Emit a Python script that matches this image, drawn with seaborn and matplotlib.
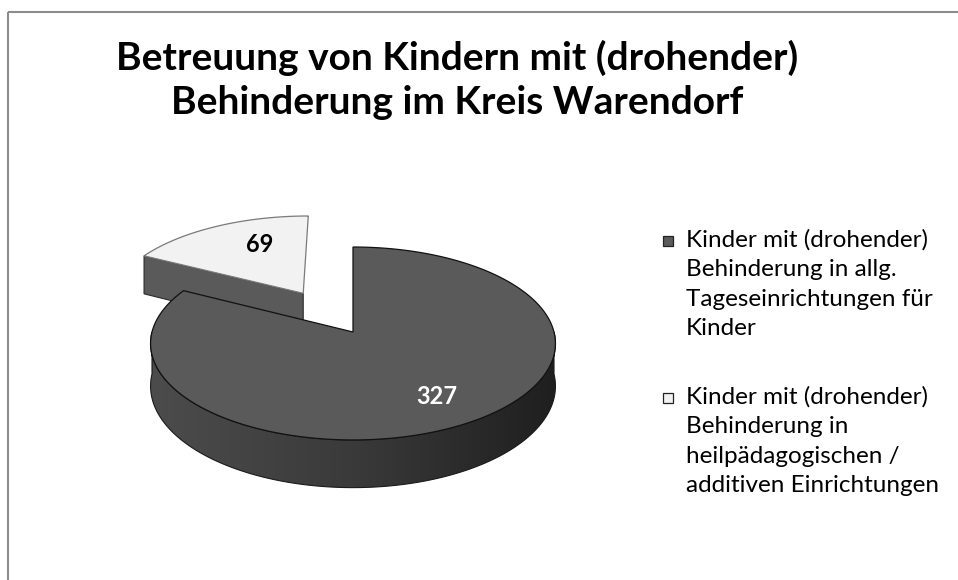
import numpy as np
import matplotlib
matplotlib.use("Agg")
import matplotlib.pyplot as plt
from matplotlib.patches import Polygon, Rectangle
from matplotlib.colors import LinearSegmentedColormap
import seaborn as sns

# ---- data ----
title = "Betreuung von Kindern mit (drohender)\nBehinderung im Kreis Warendorf"
categories = [
    "Kinder mit (drohender)\nBehinderung in allg.\nTageseinrichtungen für\nKinder",
    "Kinder mit (drohender)\nBehinderung in\nheilpädagogischen /\nadditiven Einrichtungen",
]
values = [327, 69]
explode = [0.0, 0.5]
top_colors = ["#5a5a5a", "#f2f2f2"]
label_colors = ["white", "black"]
label_radius = [0.74, 0.58]

sns.set_theme(style="white")
plt.rcParams['font.family'] = ['Lato', 'DejaVu Sans']

fig = plt.figure(figsize=(9.58, 5.8), dpi=100)
ax = fig.add_axes([0, 0, 1, 1])
ax.set_xlim(0, 958)
ax.set_ylim(580, 0)
ax.axis('off')

# chart frame
ax.add_patch(Rectangle((8.5, 11.5), 960, 590, fill=False, ec="#8c8c8c", lw=1.5, zorder=0))

# ---- 3D pie geometry ----
CX, CY, A, B, K, DEPTH = 353, 332, 201, 95.1, 0.119, 42
side_cmap = LinearSegmentedColormap.from_list("side", ["#4c4c4c", "#3a3a3a", "#1f1f1f"])


def proj(u, v, down=False):
    s = 1.0 / (1.0 + K * v)
    x = CX + A * u * s
    y = CY - B * v * s
    if down:
        y = y + DEPTH * s
    return x, y


total = float(sum(values))
start = 90.0
slices = []
cum = 0.0
for i, v in enumerate(values):
    t1 = start - cum / total * 360.0
    t2 = t1 - v / total * 360.0
    cum += v
    mid = np.radians((t1 + t2) / 2)
    ou, ov = explode[i] * np.cos(mid), explode[i] * np.sin(mid)
    slices.append((i, t1, t2, mid, ou, ov))

order = sorted(slices, key=lambda s: -s[5])
z = 1
for (i, t1, t2, mid, ou, ov) in order:
    # radial cut faces
    for th, sign in ((t1, 1), (t2, -1)):
        r = np.radians(th)
        visible = (np.cos(r) < -1e-6) if sign == 1 else (np.cos(r) > 1e-6)
        if not visible:
            continue
        pts = [proj(ou, ov), proj(ou + np.cos(r), ov + np.sin(r)),
               proj(ou + np.cos(r), ov + np.sin(r), True), proj(ou, ov, True)]
        ax.add_patch(Polygon(pts, closed=True, fc="#5a5a5a", ec="#2a2a2a", lw=0.8, zorder=z))
        z += 1
    # outer rim (front half) with horizontal gradient
    for k in (-1, 0, 1):
        lo = max(t2, -180 + 360 * k)
        hi = min(t1, 0 + 360 * k)
        if hi <= lo:
            continue
        r = np.radians(np.linspace(lo, hi, 240))
        top = [proj(ou + np.cos(a), ov + np.sin(a)) for a in r]
        bot = [proj(ou + np.cos(a), ov + np.sin(a), True) for a in r[::-1]]
        rim = Polygon(top + bot, closed=True, fc="none", ec="#1a1a1a", lw=0.8, zorder=z + 1)
        ax.add_patch(rim)
        xs = [p[0] for p in top + bot]
        ys = [p[1] for p in top + bot]
        grad = np.linspace(0, 1, 256).reshape(1, -1)
        im = ax.imshow(grad, cmap=side_cmap, aspect="auto",
                       extent=(min(xs), max(xs), max(ys), min(ys)), zorder=z,
                       interpolation="bilinear")
        im.set_clip_path(rim)
        z += 2
    # top face
    th = np.radians(np.linspace(t2, t1, 300))
    pts = [proj(ou, ov)] + [proj(ou + np.cos(a), ov + np.sin(a)) for a in th]
    ec = "#111111" if i == 0 else "#7a7a7a"
    ax.add_patch(Polygon(pts, closed=True, fc=top_colors[i], ec=ec, lw=0.9, zorder=z))
    z += 1

ax.set_xlim(0, 958)
ax.set_ylim(580, 0)

# value labels
for (i, t1, t2, mid, ou, ov) in slices:
    f = label_radius[i]
    lx, ly = proj(ou + f * np.cos(mid), ov + f * np.sin(mid))
    if i == 1:
        lx, ly = lx + 8, ly - 8
    ax.text(lx, ly, str(values[i]), ha="center", va="center", fontsize=17,
            fontweight="bold", color=label_colors[i], zorder=100)

# title
ax.text(457, 80, title, ha="center", va="center", fontsize=28, fontweight="bold",
        color="black", linespacing=1.3, zorder=100)

# legend
leg_y = [241, 398]
for i, lab in enumerate(categories):
    y0 = leg_y[i]
    ax.add_patch(Rectangle((663, y0 - 5), 10, 10, fc=top_colors[i], ec="#222222", lw=0.9, zorder=100))
    ax.text(686, y0 - 12, lab, ha="left", va="top", fontsize=17.5, color="black",
            linespacing=1.5, zorder=100)

fig.savefig("out.png", dpi=100)
